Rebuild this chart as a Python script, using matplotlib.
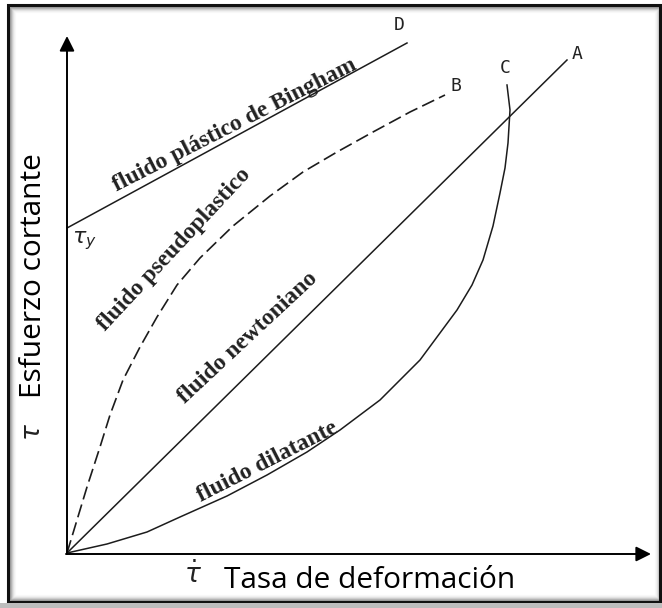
import matplotlib
matplotlib.use("Agg")
import matplotlib.pyplot as plt
from matplotlib.patches import Rectangle

# ---------------- data (shear rate, shear stress; arbitrary units) ----------------
newton_x = [0, 500]
newton_y = [0, 493]

bingham_x = [0, 340]
bingham_y = [325, 510]

pseudo_x = [0, 20, 33, 43, 56, 73, 90, 110, 133, 166, 203, 236, 270, 306, 343, 378]
pseudo_y = [0, 66, 106, 138, 173, 206, 236, 268, 295, 327, 357, 381, 401, 421, 441, 458]

dilat_x = [0, 40, 80, 113, 160, 200, 240, 273, 313, 353, 390, 405, 416, 426, 433, 438, 441, 443, 440]
dilat_y = [0, 9, 21, 36, 57, 78, 101, 123, 153, 193, 243, 268, 293, 327, 360, 385, 410, 443, 468]

curve_labels = ["fluido plástico de Bingham", "fluido pseudoplastico",
                "fluido newtoniano", "fluido dilatante"]
end_letters = ["D", "B", "C", "A"]
xlabel = "Tasa de deformación"
ylabel = "Esfuerzo cortante"

# ---------------- figure ----------------
fig = plt.figure(figsize=(6.62, 6.08), dpi=100)
ax = fig.add_axes([0, 0, 1, 1])
ax.set_xlim(-67, 595)
ax.set_ylim(-55, 553)
ax.axis("off")

lc = "#1c1c1c"
ax.plot(newton_x, newton_y, color=lc, lw=1.1)
ax.plot(bingham_x, bingham_y, color=lc, lw=1.1)
ax.plot(pseudo_x, pseudo_y, color=lc, lw=1.2, dashes=(8, 3.2))
ax.plot(dilat_x, dilat_y, color=lc, lw=1.1)

# axes arrows
ax.annotate("", xy=(0, 517), xytext=(0, -1),
            arrowprops=dict(arrowstyle="-|>,head_length=0.9,head_width=0.45",
                            color="black", lw=1.4, shrinkA=0, shrinkB=0))
ax.annotate("", xy=(584, -1), xytext=(-1, -1),
            arrowprops=dict(arrowstyle="-|>,head_length=0.9,head_width=0.45",
                            color="black", lw=1.4, shrinkA=0, shrinkB=0))

# curve labels
serif = dict(family="Liberation Serif", fontweight="bold", color="#222222",
             ha="center", va="center", rotation_mode="anchor", fontsize=17)
ax.text(168, 428, curve_labels[0], rotation=27, **serif)
ax.text(107, 303, curve_labels[1], rotation=47, **serif)
ax.text(181, 215, curve_labels[2], rotation=43, **serif)
ax.text(201, 91, curve_labels[3], rotation=27, **serif)

# end letters
mono = dict(family="DejaVu Sans Mono", fontsize=13, color="#222222",
            ha="center", va="center")
ax.text(332, 528, end_letters[0], **mono)
ax.text(389, 467, end_letters[1], **mono)
ax.text(438, 485, end_letters[2], **mono)
ax.text(510, 499, end_letters[3], **mono)

# tau_y
ax.text(5, 312, r"$\tau_y$", fontsize=16, color="#222222", ha="left", va="center")

# axis labels
ax.text(-33, 277, ylabel, family="Open Sans", fontsize=21.5, rotation=90,
        ha="center", va="center", color="black")
ax.text(-34, 121, r"$\tau$", fontsize=19, rotation=90, ha="center", va="center",
        color="#222222")
ax.text(303, -27, xlabel, family="Open Sans", fontsize=21.5, ha="center", va="center",
        color="black")
ax.text(126, -22, r"$\dot{\tau}$", fontsize=19, ha="center", va="center",
        color="#222222")

# ---------------- decorative frame ----------------
ov = fig.add_axes([0, 0, 1, 1], facecolor="none")
ov.set_xlim(0, 662)
ov.set_ylim(608, 0)
ov.axis("off")
for i, a in enumerate([0.35, 0.22, 0.14, 0.08, 0.04, 0.02]):
    ov.add_patch(Rectangle((10 + i, 7 + i), 650 - 2 * i, 593 - 2 * i, fill=False,
                           edgecolor="black", alpha=a, lw=1))
ov.add_patch(Rectangle((8, 5), 652, 597, fill=False, edgecolor="#111111", lw=2.2))
ov.add_patch(Rectangle((0, 603), 662, 5, color="#bdbdbd", lw=0))

fig.savefig("out.png", dpi=100, facecolor="white")
